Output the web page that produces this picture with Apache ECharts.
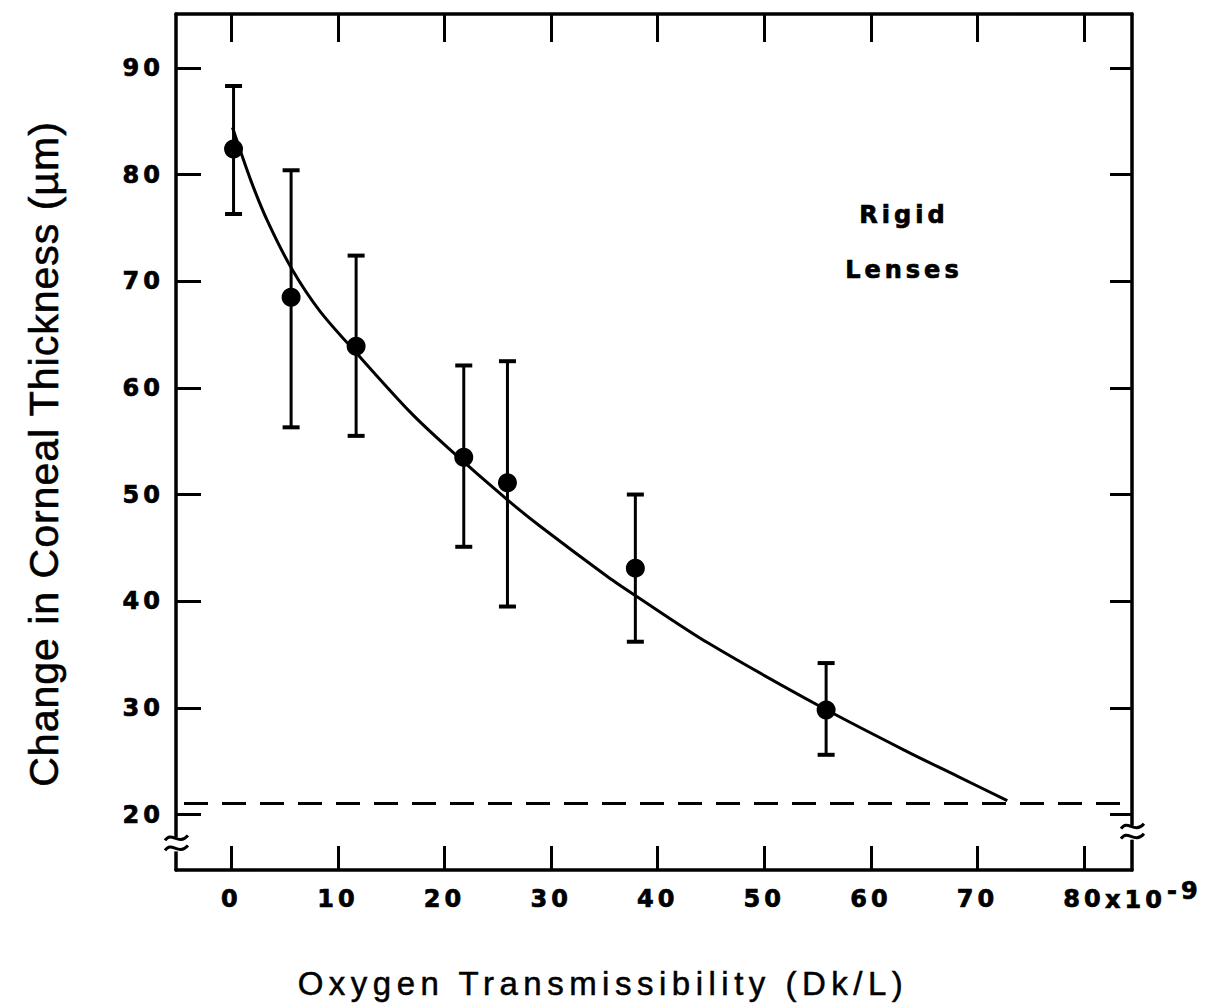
<!DOCTYPE html>
<html>
<head>
<meta charset="utf-8">
<title>Corneal swelling vs oxygen transmissibility</title>
<script src="https://cdn.jsdelivr.net/npm/echarts@6/dist/echarts.min.js"></script>
<style>
  html, body { margin: 0; padding: 0; background: #fff; }
  #chart { width: 1207px; height: 1007px; }
  /* wide, heavy lettering for the tick labels and the lens-type note; tracked axis titles */
  #chart text[style*="DejaVu"] { letter-spacing: 4px; stroke: #000; stroke-width: 0.7px; }
  #chart text[style*="Liberation"] { letter-spacing: 5.5px; stroke: #000; stroke-width: 0.5px; }
  #chart text[style*="Arial"] { letter-spacing: 1px; stroke: #000; stroke-width: 0.6px; }
</style>
</head>
<body>
<div id="chart"></div>
<script>
// tick positions
const xTicks = [0, 10, 20, 30, 40, 50, 60, 70, 80];
const yTicks = [20, 30, 40, 50, 60, 70, 80, 90];

// measured lens groups: Dk/L (x10^-9) and mean change in corneal thickness (µm)
const dkL = [0.2, 5.6, 11.7, 21.8, 25.9, 37.9, 55.8];
const swelling = [82.4, 68.5, 63.9, 53.5, 51.1, 43.1, 29.8];
const swellingHigh = [88.3, 80.4, 72.4, 62.1, 62.5, 50.0, 34.2];
const swellingLow = [76.3, 56.3, 55.5, 45.1, 39.5, 36.2, 25.6];

// fitted curve through the rigid-lens data
const fitX = [0.1, 1.8, 3.4, 5.7, 8.3, 11.7, 16.8, 20.3, 25.9, 29.0, 35.3, 38.1, 44.7, 55.3, 63.4, 68.1, 72.8];
const fitY = [84.4, 79.5, 75.6, 71.1, 67.2, 63.3, 57.7, 54.4, 49.5, 47.0, 42.3, 40.4, 36.1, 30.1, 25.9, 23.6, 21.3];

// overnight swelling without a lens (dashed reference)
const baseline = 21.1;

const X_MIN = -5.2, X_MAX = 84.5;
const Y_MIN = 14.8, Y_MAX = 95.05;
const INK = '#000';
const BOLD_SIZE = 24;

const tickFont = { fontFamily: 'DejaVu Sans', fontWeight: 'bold', fontSize: BOLD_SIZE, color: INK };
const axisLine = { onZero: false, lineStyle: { color: INK, width: 3.5 } };

const chart = echarts.init(document.getElementById('chart'), null, { renderer: 'svg' });

chart.setOption({
  animation: false,
  backgroundColor: '#fff',
  grid: { left: 176, top: 14, width: 956, height: 856, outerBoundsMode: 'none' },
  xAxis: [
    {
      type: 'value', position: 'bottom', min: X_MIN, max: X_MAX,
      axisLine: axisLine,
      axisTick: { inside: true, length: 24, customValues: xTicks, lineStyle: { color: INK, width: 3 } },
      axisLabel: Object.assign({ customValues: xTicks, margin: 17 }, tickFont),
      splitLine: { show: false },
      name: 'Oxygen Transmissibility (Dk/L)',
      nameLocation: 'middle', nameGap: 97, nameMoveOverlap: false,
      nameTextStyle: { fontFamily: 'Liberation Sans', fontSize: 33, color: INK, padding: [0, 102, 0, 0] }
    },
    {
      type: 'value', position: 'top', min: X_MIN, max: X_MAX,
      axisLine: axisLine,
      axisTick: { inside: true, length: 28, customValues: xTicks, lineStyle: { color: INK, width: 3 } },
      axisLabel: { show: false },
      splitLine: { show: false }
    }
  ],
  yAxis: [
    {
      type: 'value', position: 'left', min: Y_MIN, max: Y_MAX,
      axisLine: axisLine,
      axisTick: { inside: true, length: 25, customValues: yTicks, lineStyle: { color: INK, width: 3 } },
      axisLabel: Object.assign({ customValues: yTicks, margin: 12 }, tickFont),
      splitLine: { show: false },
      name: 'Change in Corneal Thickness (µm)',
      nameLocation: 'middle', nameGap: 112, nameRotate: 90, nameMoveOverlap: false,
      nameTextStyle: { fontFamily: 'Arial, Liberation Sans', fontSize: 41, color: INK, padding: [0, 24, 0, 0] }
    },
    {
      type: 'value', position: 'right', min: Y_MIN, max: Y_MAX,
      axisLine: axisLine,
      axisTick: { inside: true, length: 22, customValues: yTicks, lineStyle: { color: INK, width: 3 } },
      axisLabel: { show: false },
      splitLine: { show: false }
    }
  ],
  series: [
    {
      name: 'fit',
      type: 'line',
      xAxisIndex: 0, yAxisIndex: 0,
      data: fitX.map((x, i) => [x, fitY[i]]),
      smooth: 0.3,
      showSymbol: false,
      lineStyle: { color: INK, width: 3 },
      silent: true,
      markLine: {
        silent: true,
        symbol: 'none',
        label: { show: false },
        lineStyle: { color: INK, width: 3, type: [24, 14], dashOffset: -8 },
        data: [{ yAxis: baseline }]
      }
    },
    {
      name: 'range',
      type: 'custom',
      xAxisIndex: 0, yAxisIndex: 0,
      data: dkL.map((x, i) => [x, swellingLow[i], swellingHigh[i]]),
      encode: { x: 0, y: [1, 2] },
      renderItem: function (params, api) {
        const x = api.value(0);
        const lo = api.coord([x, api.value(1)]);
        const hi = api.coord([x, api.value(2)]);
        const cap = 8.5;
        return {
          type: 'group',
          children: [
            { type: 'line', shape: { x1: hi[0], y1: hi[1], x2: lo[0], y2: lo[1] }, style: { stroke: INK, lineWidth: 3 } },
            { type: 'line', shape: { x1: hi[0] - cap, y1: hi[1], x2: hi[0] + cap, y2: hi[1] }, style: { stroke: INK, lineWidth: 4 } },
            { type: 'line', shape: { x1: lo[0] - cap, y1: lo[1], x2: lo[0] + cap, y2: lo[1] }, style: { stroke: INK, lineWidth: 4 } }
          ]
        };
      }
    },
    {
      name: 'mean',
      type: 'scatter',
      xAxisIndex: 0, yAxisIndex: 0,
      data: dkL.map((x, i) => [x, swelling[i]]),
      symbol: 'circle',
      symbolSize: 19,
      itemStyle: { color: INK, opacity: 1 },
      z: 5
    }
  ]
});

// decorations: exponent after the last x label, axis breaks, lens-type note
const toPx = (v) => chart.convertToPixel({ xAxisIndex: 0, yAxisIndex: 0 }, v);
const boldText = (txt, x, y, align) => ({
  type: 'text', x: x, y: y, z: 100,
  style: {
    text: txt, fontFamily: 'DejaVu Sans', fontWeight: 'bold', fontSize: BOLD_SIZE, fill: INK,
    align: align, textAlign: align, verticalAlign: 'middle', textVerticalAlign: 'middle'
  }
});

function axisBreak(xVal, yVal) {
  const p = toPx([xVal, yVal]);
  const px = p[0], py = p[1];
  const wave = (dy) => ({
    type: 'bezierCurve', z: 101,
    shape: { x1: px - 11, y1: py + dy + 1, cpx1: px - 4, cpy1: py + dy - 9, cpx2: px + 2, cpy2: py + dy + 7, x2: px + 12, y2: py + dy - 4 },
    style: { stroke: INK, lineWidth: 3, fill: null }
  });
  return [
    { type: 'rect', z: 100, shape: { x: px - 7, y: py - 7, width: 14, height: 14 }, style: { fill: '#fff' } },
    wave(-5), wave(5)
  ];
}

const p80 = toPx([80, Y_MIN]);
const labelY = p80[1] + 30;
const noteRigid = toPx([63.1, 76.2]);
const noteLenses = toPx([63.1, 71.05]);

chart.setOption({
  graphic: {
    elements: [
      boldText('x10', p80[0] + 21, labelY, 'left'),
      boldText('-9', p80[0] + 83, labelY - 9, 'left'),
      boldText('Rigid', noteRigid[0], noteRigid[1], 'center'),
      boldText('Lenses', noteLenses[0], noteLenses[1], 'center')
    ].concat(axisBreak(X_MIN, 17.2), axisBreak(X_MAX, 18.3))
  }
});
</script>
</body>
</html>
